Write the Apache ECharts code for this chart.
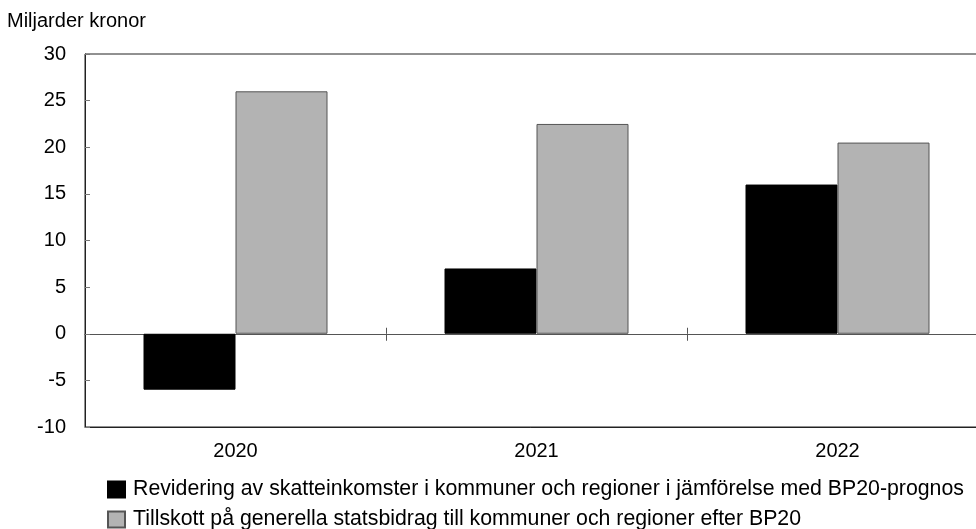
<!DOCTYPE html>
<html>
<head>
<meta charset="utf-8">
<script src="https://cdn.jsdelivr.net/npm/echarts@6/dist/echarts.min.js"></script>
<style>html,body{margin:0;padding:0;background:#fff}#c{width:976px;height:529px}</style>
</head>
<body>
<div id="c"></div>
<script>
var categories = ['2020', '2021', '2022'];
var seriesNames = ['Revidering av skatteinkomster i kommuner och regioner i jämförelse med BP20-prognos', 'Tillskott på generella statsbidrag till kommuner och regioner efter BP20'];
var revidering = [-6, 7, 16];
var tillskott = [26, 22.5, 20.5];
var yTicks = [-10, -5, 0, 5, 10, 15, 20, 25, 30];
var yUnit = 'Miljarder kronor';

var font = 'Liberation Sans, Arial, sans-serif';
var chart = echarts.init(document.getElementById('c'));
var legendBase = {
  orient: 'horizontal', left: 102, itemWidth: 17, itemHeight: 16, itemGap: 10,
  icon: 'rect',
  textStyle: {fontSize: 21.3, color: '#000', fontFamily: font, padding: [0, 0, 0, 3]}
};
var skipFirst = function (idx) { return idx !== 0; };
chart.setOption({
  animation: false,
  textStyle: {fontFamily: font},
  graphic: [{type: 'text', left: 7, top: 11, style: {text: yUnit, font: '20px ' + font, fill: '#000'}}],
  grid: {left: 85, width: 903, top: 54, bottom: 102, outerBoundsMode: 'none', containLabel: false,
         show: true, borderColor: '#222', borderWidth: 1, backgroundColor: 'transparent'},
  legend: [
    Object.assign({}, legendBase, {top: 474, data: [seriesNames[0]]}),
    Object.assign({}, legendBase, {top: 504, data: [seriesNames[1]]})
  ],
  xAxis: [
    {type: 'category', data: categories, position: 'bottom', axisLine: {onZero: false, lineStyle: {color: '#222'}},
     axisTick: {show: false}, axisLabel: {fontSize: 20, color: '#000', margin: 14}},
    {type: 'category', data: categories, position: 'bottom', axisLine: {onZero: true, onZeroAxisIndex: 0, lineStyle: {color: '#555'}},
     axisTick: {show: true, inside: true, length: 6, interval: skipFirst, lineStyle: {color: '#555'}}, axisLabel: {show: false}},
    {type: 'category', data: categories, position: 'bottom', axisLine: {onZero: true, onZeroAxisIndex: 1, lineStyle: {color: '#555'}},
     axisTick: {show: true, inside: false, length: 7, interval: skipFirst, lineStyle: {color: '#555'}}, axisLabel: {show: false}}
  ],
  yAxis: [{
    type: 'value', min: -10, max: 30, interval: 5,
    axisLine: {show: true, lineStyle: {color: '#222'}},
    axisTick: {show: true, inside: true, length: 5, lineStyle: {color: '#777'}},
    splitLine: {show: false},
    axisLabel: {fontSize: 20, color: '#000', margin: 19, formatter: function (v) { return yTicks.indexOf(v) >= 0 ? String(v) : ''; }}
  }, {
    type: 'value', min: -10, max: 30, interval: 5, position: 'left',
    axisLine: {show: false}, axisTick: {show: false}, axisLabel: {show: false}, splitLine: {show: false}
  }],
  series: [
    {name: seriesNames[0], type: 'bar', xAxisIndex: 0, data: revidering, barWidth: 92, barGap: '0%',
     itemStyle: {color: '#000', borderColor: '#000', borderWidth: 1}},
    {name: seriesNames[1], type: 'bar', xAxisIndex: 0, data: tillskott, barWidth: 92, barGap: '0%',
     itemStyle: {color: '#b3b3b3', borderColor: '#555', borderWidth: 1}}
  ]
});
</script>
</body>
</html>
